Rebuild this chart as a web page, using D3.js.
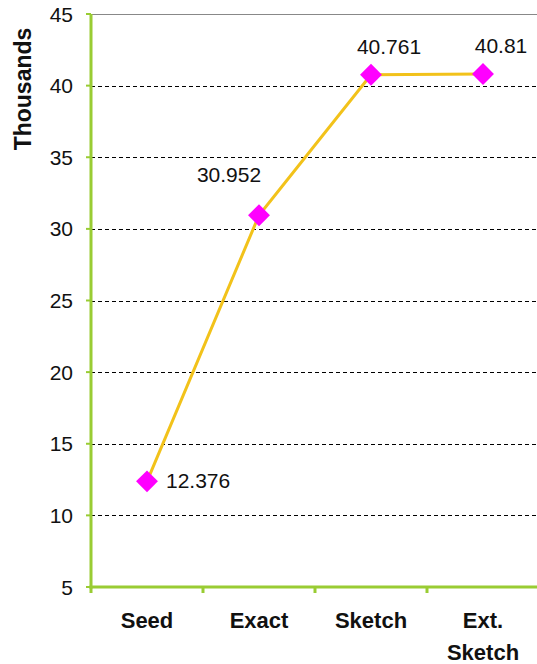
<!DOCTYPE html>
<html>
<head>
<meta charset="utf-8">
<script src="https://cdn.jsdelivr.net/npm/d3@7"></script>
<style>
  body { margin: 0; background: #fff; }
  svg { display: block; font-family: "Liberation Sans", Arial, sans-serif; }
</style>
</head>
<body>
<svg id="chart"></svg>
<script>
let width = 537;
let height = 664;

let categories = ["Seed", "Exact", "Sketch", "Ext. Sketch"];
let values = [12.376, 30.952, 40.761, 40.81];
let valueLabels = ["12.376", "30.952", "40.761", "40.81"];
let labelPlacement = ["right", "aboveLeft", "above", "above"];
let yTicks = [5, 10, 15, 20, 25, 30, 35, 40, 45];

let margin = {left: 91, top: 14, right: -2, bottom: 77};

let svg = d3.select("#chart")
    .attr("width", width)
    .attr("height", height);

let x = d3.scaleBand()
    .domain(categories)
    .range([margin.left, width - margin.right]);

let y = d3.scaleLinear()
    .domain([5, 45])
    .range([height - margin.bottom, margin.top]);

// gridlines
svg.append("g")
    .selectAll("line")
    .data(yTicks.filter(d => d > 5))
    .enter().append("line")
    .attr("x1", margin.left)
    .attr("x2", width)
    .attr("y1", d => Math.round(y(d)) + 0.5)
    .attr("y2", d => Math.round(y(d)) + 0.5)
    .attr("stroke", d => d === 45 ? "#888" : "#000")
    .attr("stroke-width", 1)
    .attr("stroke-dasharray", d => d === 45 ? null : "4,3");

// y tick labels
svg.append("g")
    .selectAll("text")
    .data(yTicks)
    .enter().append("text")
    .attr("x", 73)
    .attr("y", d => y(d))
    .attr("dy", "0.36em")
    .attr("text-anchor", "end")
    .attr("font-size", 21)
    .attr("fill", "#111")
    .text(d => d);

// y tick marks
svg.append("g")
    .selectAll("line")
    .data(yTicks)
    .enter().append("line")
    .attr("x1", margin.left - 5)
    .attr("x2", margin.left)
    .attr("y1", d => y(d))
    .attr("y2", d => y(d))
    .attr("stroke", "#9c3")
    .attr("stroke-width", 2);

// x tick marks at band boundaries
svg.append("g")
    .selectAll("line")
    .data(categories)
    .enter().append("line")
    .attr("x1", d => x(d))
    .attr("x2", d => x(d))
    .attr("y1", y(5))
    .attr("y2", y(5) + 6)
    .attr("stroke", "#9c3")
    .attr("stroke-width", 3);

// axes lines
svg.append("line")
    .attr("x1", margin.left).attr("x2", margin.left)
    .attr("y1", y(45)).attr("y2", y(5) + 1.5)
    .attr("stroke", "#9c3").attr("stroke-width", 3);
svg.append("line")
    .attr("x1", margin.left - 1.5).attr("x2", width)
    .attr("y1", y(5)).attr("y2", y(5))
    .attr("stroke", "#9c3").attr("stroke-width", 3);

// y title
svg.append("text")
    .attr("transform", "translate(31," + 89 + ") rotate(-90)")
    .attr("text-anchor", "middle")
    .attr("font-size", 23)
    .attr("font-weight", "bold")
    .attr("fill", "#111")
    .text("Thousands");

// category labels
let catG = svg.append("g");
categories.forEach(function (c) {
    let parts = c === "Ext. Sketch" ? ["Ext.", "Sketch"] : [c];
    parts.forEach(function (p, i) {
        catG.append("text")
            .attr("x", x(c) + x.bandwidth() / 2)
            .attr("y", 628 + i * 32)
            .attr("text-anchor", "middle")
            .attr("font-size", 22)
            .attr("font-weight", "bold")
            .attr("fill", "#111")
            .text(p);
    });
});

let points = categories.map((c, i) => ({cat: c, value: values[i], label: valueLabels[i], place: labelPlacement[i]}));

let line = d3.line()
    .x(d => x(d.cat) + x.bandwidth() / 2)
    .y(d => y(d.value));

svg.append("path")
    .datum(points)
    .attr("d", line)
    .attr("fill", "none")
    .attr("stroke", "#f2c21a")
    .attr("stroke-width", 3);

svg.append("g")
    .selectAll("path")
    .data(points)
    .enter().append("path")
    .attr("d", d3.symbol().type(d3.symbolSquare).size(240))
    .attr("transform", d => "translate(" + (x(d.cat) + x.bandwidth() / 2) + "," + y(d.value) + ") rotate(45)")
    .attr("fill", "#f0f");

svg.append("g")
    .selectAll("text")
    .data(points)
    .enter().append("text")
    .attr("x", function (d) {
        let cx = x(d.cat) + x.bandwidth() / 2;
        if (d.place === "right") return cx + 19;
        if (d.place === "aboveLeft") return cx - 30;
        return cx + 18;
    })
    .attr("y", function (d) {
        let cy = y(d.value);
        if (d.place === "right") return cy + 7;
        if (d.place === "aboveLeft") return cy - 33;
        return cy - 21;
    })
    .attr("text-anchor", d => d.place === "right" ? "start" : "middle")
    .attr("font-size", 21)
    .attr("fill", "#111")
    .text(d => d.label);
</script>
</body>
</html>
